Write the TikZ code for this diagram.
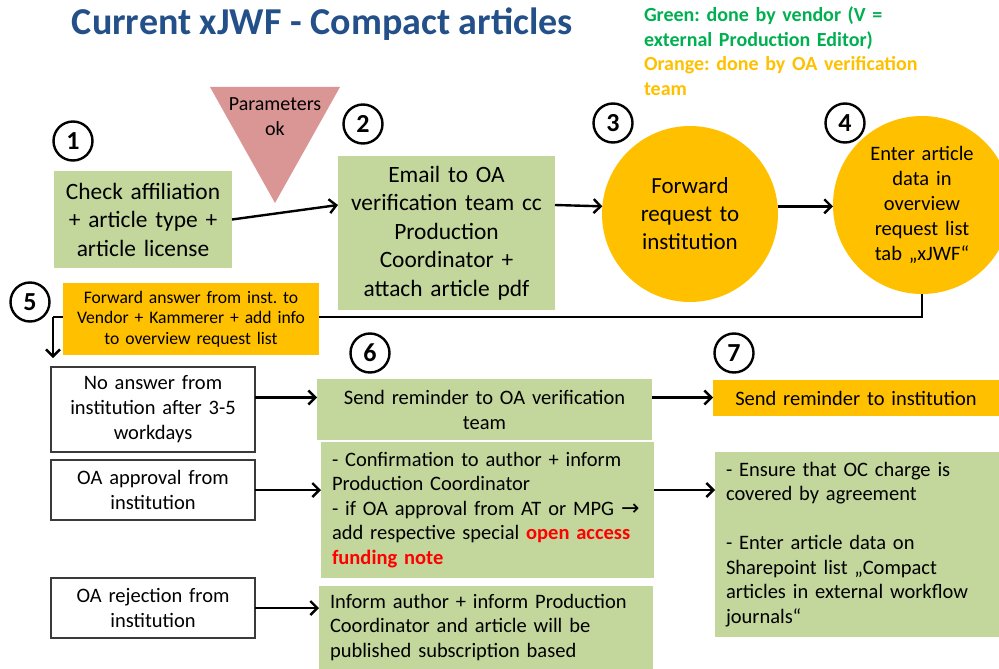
\documentclass[tikz,border=0pt]{standalone}
\usepackage{fontspec}
\setmainfont{Carlito}
\newfontfamily\symfont{DejaVu Sans}
\usetikzlibrary{arrows.meta}
\definecolor{boxgreen}{HTML}{C3D69B}
\definecolor{boxorange}{HTML}{FFC000}
\definecolor{trianglepink}{HTML}{D99694}
\definecolor{titleblue}{HTML}{24508A}
\definecolor{leggreen}{HTML}{00B050}
\definecolor{notered}{HTML}{FF0000}
\definecolor{boxborder}{HTML}{3A3A3A}
\newcommand{\fsz}[2]{\fontsize{#1}{#2}\selectfont}
\frenchspacing
\begin{document}
\frenchspacing
\begin{tikzpicture}[x=1pt,y=-1pt,
  every node/.style={inner sep=0pt, outer sep=0pt},
  gbox/.style={fill=boxgreen, align=center, font=\fsz{20.5}{25}},
  obox/.style={fill=boxorange, align=center, font=\fsz{20.5}{25}},
  wbox/.style={draw=boxborder, line width=1.3pt, fill=white, align=center, font=\fsz{20.5}{25}},
  lbox/.style={fill=boxgreen, align=left, inner xsep=11pt, font=\fsz{20.5}{24.5}},
  stepnum/.style={circle, draw=black, line width=2.4pt, minimum size=39pt, font=\fsz{26}{26}\bfseries},
  arr/.style={line width=2.4pt, -{Straight Barb[length=7pt,width=14pt,line width=2.4pt]}},
  flowline/.style={line width=2.4pt}
]
\useasboundingbox (0,0) rectangle (999,669);

% title and legend
\node[font=\fsz{38}{40}\bfseries, text=titleblue, anchor=base] (title) at (322.5,35) {Current xJWF - Compact articles};
\node[anchor=north west, align=left, font=\fsz{20}{24.5}\bfseries, text width=300pt] (legend) at (644,7)
  {\textcolor{leggreen}{Green: done by vendor (V =}\\
   \textcolor{leggreen}{external Production Editor)}\\
   \textcolor{boxorange}{Orange: done by OA verification}\\
   \textcolor{boxorange}{team}};

% triangle
\fill[trianglepink] (210,87) -- (340,87) -- (275,203) -- cycle;
\node[align=center, font=\fsz{20}{25}] (params) at (275,117) {Parameters\\ok};

% step 1 & 2
\node[gbox, text width=178pt, minimum height=97pt, font=\fsz{23.4}{28.5}] (b1) at (143,219.5)
  {Check affiliation\\+ article type +\\article license};
\node[gbox, text width=217pt, minimum height=154pt, font=\fsz{23.4}{28.5}] (b2) at (446.5,233)
  {Email to OA\\verification team cc\\Production\\Coordinator +\\attach article pdf};

% circles 3 & 4
\node[circle, fill=boxorange, minimum size=176pt, align=center, text width=110pt, font=\fsz{23}{28}] (c3) at (690,214)
  {Forward\\request to\\institution};
\node[circle, fill=boxorange, minimum size=178pt, align=center, text width=110pt, font=\fsz{20.5}{25}] (c4) at (922,205)
  {Enter article\\data in\\overview\\request list\\tab „xJWF“};

% connectors top row
\draw[arr] (b1.east) -- ([yshift=28pt]b2.west);
\draw[arr] ([yshift=28pt]b2.east) -- (c3.175);
\draw[arr] (c3.5) -- (c3.5 -| c4.west);

% loop back connector
\coordinate (turn) at (53,317);
\coordinate (tip) at (53,358);
\draw[flowline] (c4.south) |- (turn);
\draw[arr] (turn) -- (tip);

% step 5 box
\node[obox, text width=256pt, minimum height=72pt, font=\fsz{17.6}{20.6}] (b5) at (191,319)
  {Forward answer from inst. to\\Vendor + Kammerer + add info\\to overview request list};

% left column
\node[wbox, text width=204pt, minimum height=85pt] (na) at (153,409.5)
  {No answer from\\institution after 3-5\\workdays};
\node[wbox, text width=204pt, minimum height=60pt] (ap) at (153,490)
  {OA approval from\\institution};
\node[wbox, text width=204pt, minimum height=60pt] (rj) at (153,608)
  {OA rejection from\\institution};

% middle column
\node[gbox, text width=335pt, minimum height=61pt] (g6) at (484.5,409.5)
  {Send reminder to OA verification\\team};
\node[lbox, text width=311pt, minimum height=136pt] (conf) at (487.5,510)
  {- Confirmation to author + inform\\
   Production Coordinator\\
   - if OA approval from AT or MPG {\symfont\fsz{22}{24.5}→}\\
   add respective special \textcolor{notered}{\bfseries open access}\\
   \textcolor{notered}{\bfseries funding note}};
\node[lbox, text width=312pt, minimum height=83pt] (inf) at (486,627.5)
  {Inform author + inform Production\\
   Coordinator and article will be\\
   published subscription based};

% right column
\node[obox, text width=286pt, minimum height=36pt] (o7) at (856,398)
  {Send reminder to institution};
\node[lbox, text width=262pt, minimum height=185pt] (rg) at (857,544.5)
  {- Ensure that OC charge is\\
   covered by agreement\\[24.5pt]
   - Enter article data on\\
   Sharepoint list „Compact\\
   articles in external workflow\\
   journals“};

% row connectors
\draw[arr] ([yshift=12pt]na.east) -- ([yshift=12pt]na.east -| g6.west);
\draw[arr] (ap.east) -- (ap.east -| conf.west);
\draw[arr] (rj.east) -- (rj.east -| inf.west);
\draw[arr] ([yshift=12pt]g6.east) -- ([yshift=12pt]g6.east -| o7.west);
\draw[arr] (ap.east -| conf.east) -- (ap.east -| rg.west);

% step numbers
\node[stepnum] (n1) at (73,141) {1};
\node[stepnum] (n2) at (363,124) {2};
\node[stepnum] (n3) at (613,123) {3};
\node[stepnum] (n4) at (845,123) {4};
\node[stepnum] (n5) at (30,302) {5};
\node[stepnum] (n6) at (370,353) {6};
\node[stepnum] (n7) at (734,353) {7};
\end{tikzpicture}
\end{document}
